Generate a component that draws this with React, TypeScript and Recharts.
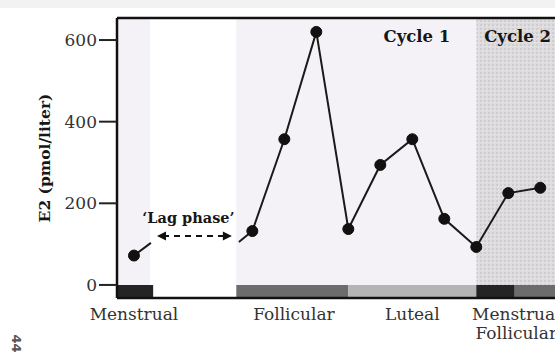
import { LineChart, Line, XAxis, YAxis, ReferenceArea, ReferenceLine } from "recharts";

// sampling days (x) and serum E2 (pmol/liter)
const sampleDay = [0, 3.7, 4.7, 5.7, 6.7, 7.7, 8.7, 9.7, 10.7, 11.7, 12.7];
const e2Values = [72, 132, 357, 620, 137, 294, 357, 162, 93, 225, 238];

// broken-axis stubs either side of the lag phase
const stubOutDays = [0, 0.53];
const stubOutValues = [72, 103];
const stubInDays = [3.28, 3.7];
const stubInValues = [105, 132];

// lag-phase arrow
const lagArrowDays = [0.72, 3.06];
const lagArrowValue = 120;

// phase bar along the bottom
const phaseNames = ["menstrual", "follicular", "luteal", "menstrual", "follicular"];
const phaseStart = [-0.53, 3.2, 6.7, 10.7, 11.9];
const phaseEnd = [0.6, 6.7, 10.7, 11.9, 13.16];

// phase labels under the axis
const labelDays = [0, 5.0, 8.7, 11.95];
const labelText = ["Menstrual", "Follicular", "Luteal", "Menstrual\nFollicular"];

// shaded backgrounds
const cycle1Start = 3.2;
const cycle1End = 10.7;
const cycle2Start = 10.7;
const xMin = -0.53;
const xMax = 13.16;
const yMin = -32;
const yMax = 654;
const yTicks = [0, 200, 400, 600];

const PHASE_FILL: Record<string, string> = {
  menstrual: "#242424",
  follicular: "#6c6c6c",
  luteal: "#b4b4b4",
};

const SERIF = "'DejaVu Serif', serif";

const mainData = sampleDay.slice(1).map((d, i) => ({ day: d, e2: e2Values[i + 1] }));
const soloData = [{ day: sampleDay[0], e2: e2Values[0] }];
const stubOut = stubOutDays.map((d, i) => ({ day: d, e2: stubOutValues[i] }));
const stubIn = stubInDays.map((d, i) => ({ day: d, e2: stubInValues[i] }));

function PhaseTick({ x, y, payload }: any) {
  const idx = labelDays.indexOf(payload.value);
  const lines = (labelText[idx] ?? "").split("\n");
  return (
    <text x={x} y={y} textAnchor="middle" fontFamily={SERIF} fontSize={17} fill="#333">
      {lines.map((l, i) => (
        <tspan key={i} x={x} dy={i === 0 ? 14 : 19}>
          {l}
        </tspan>
      ))}
    </text>
  );
}

function LagArrow(props: any) {
  const { x1, y1, x2, y2 } = props;
  return (
    <g>
      <line
        x1={x1 + 6}
        y1={y1}
        x2={x2 - 6}
        y2={y2}
        stroke="#111"
        strokeWidth={2}
        strokeDasharray="6 5"
      />
      <path d={`M${x1},${y1} l9,-4.5 l0,9 z`} fill="#111" />
      <path d={`M${x2},${y2} l-9,-4.5 l0,9 z`} fill="#111" />
      <text
        x={(x1 + x2) / 2 - 6}
        y={y1 - 13}
        textAnchor="middle"
        fontFamily={SERIF}
        fontWeight="bold"
        fontSize={14.5}
        fill="#161616"
      >
        ‘Lag phase’
      </text>
    </g>
  );
}

function cycleLabel(text: string, fromRight: number) {
  return (props: any) => {
    const vb = props.viewBox;
    return (
      <text
        x={vb.x + vb.width - fromRight}
        y={vb.y + 24}
        textAnchor="end"
        fontFamily={SERIF}
        fontWeight="bold"
        fontSize={16.5}
        fill="#161616"
      >
        {text}
      </text>
    );
  };
}

function yLabel(props: any) {
  const vb = props.viewBox;
  const cy = vb.y + vb.height / 2;
  return (
    <text
      x={46}
      y={cy}
      transform={`rotate(-90 46 ${cy})`}
      textAnchor="middle"
      dominantBaseline="middle"
      fontFamily={SERIF}
      fontWeight="bold"
      fontSize={15.5}
      fill="#161616"
    >
      E2 (pmol/liter)
    </text>
  );
}

export default function App() {
  return (
    <div
      style={{
        position: "relative",
        width: 555,
        height: 362,
        overflow: "hidden",
        background: "linear-gradient(#f2f2f2 0 8px, #ffffff 8px)",
      }}
    >
      <style>{"html,body{margin:0;padding:0;overflow:hidden}"}</style>
      <LineChart width={555} height={362} margin={{ top: 18, right: 0, bottom: 0, left: 0 }}>
        <defs>
          <pattern id="hatch" width="4" height="4" patternUnits="userSpaceOnUse">
            <rect width="4" height="4" fill="#dedcde" />
            <rect width="2" height="2" fill="#cfcdcf" />
            <rect x="2" y="2" width="1" height="1" fill="#ebe9eb" />
          </pattern>
        </defs>

        <XAxis
          dataKey="day"
          type="number"
          domain={[xMin, xMax]}
          allowDataOverflow
          ticks={sampleDay}
          tick={false}
          height={8}
          tickSize={6}
          tickLine={{ stroke: "#111", strokeWidth: 2 }}
          axisLine={{ stroke: "#111", strokeWidth: 2.5 }}
        />
        <XAxis
          xAxisId="phase"
          dataKey="day"
          type="number"
          domain={[xMin, xMax]}
          allowDataOverflow
          ticks={labelDays}
          tick={<PhaseTick />}
          tickSize={0}
          tickMargin={0}
          height={56}
          tickLine={false}
          axisLine={false}
          interval={0}
        />
        <YAxis
          type="number"
          domain={[yMin, yMax]}
          allowDataOverflow
          ticks={yTicks}
          width={117}
          tickSize={18}
          tickMargin={2}
          tick={{ fontFamily: SERIF, fontSize: 17, fill: "#333" }}
          tickLine={{ stroke: "#222", strokeWidth: 2 }}
          axisLine={{ stroke: "#111", strokeWidth: 2.5 }}
          label={{ content: yLabel }}
        />

        {/* backgrounds */}
        <ReferenceArea x1={xMin} x2={0.5} fill="#f5f2f7" fillOpacity={1} stroke="none" />
        <ReferenceArea
          x1={cycle1Start}
          x2={cycle1End}
          fill="#f5f2f7"
          fillOpacity={1}
          stroke="none"
          label={{ content: cycleLabel("Cycle 1", 26) }}
        />
        <ReferenceArea
          x1={cycle2Start}
          x2={xMax}
          fill="url(#hatch)"
          fillOpacity={1}
          stroke="none"
          label={{ content: cycleLabel("Cycle 2", 4) }}
        />

        {/* phase bar */}
        {phaseNames.map((p, i) => (
          <ReferenceArea
            key={i}
            x1={phaseStart[i]}
            x2={phaseEnd[i]}
            y1={yMin}
            y2={0}
            fill={PHASE_FILL[p]}
            fillOpacity={1}
            stroke="none"
          />
        ))}

        <ReferenceLine y={yMax} stroke="#111" strokeWidth={2.5} />
        <ReferenceLine
          segment={[
            { x: lagArrowDays[0], y: lagArrowValue },
            { x: lagArrowDays[1], y: lagArrowValue },
          ]}
          shape={LagArrow}
        />

        <Line
          data={stubOut}
          dataKey="e2"
          stroke="#1a1a1a"
          strokeWidth={2}
          dot={false}
          isAnimationActive={false}
        />
        <Line
          data={stubIn}
          dataKey="e2"
          stroke="#1a1a1a"
          strokeWidth={2}
          dot={false}
          isAnimationActive={false}
        />
        <Line
          data={mainData}
          dataKey="e2"
          type="linear"
          stroke="#1a1a1a"
          strokeWidth={2}
          dot={{ r: 5.5, fill: "#111", stroke: "#111", strokeWidth: 1 }}
          isAnimationActive={false}
        />
        <Line
          data={soloData}
          dataKey="e2"
          stroke="#1a1a1a"
          strokeWidth={2}
          dot={{ r: 5.5, fill: "#111", stroke: "#111", strokeWidth: 1 }}
          isAnimationActive={false}
        />
      </LineChart>
      <div
        style={{
          position: "absolute",
          left: 7,
          top: 336,
          fontFamily: "'DejaVu Sans', sans-serif",
          fontSize: 13,
          fontWeight: "bold",
          color: "#555",
          transform: "rotate(90deg)",
        }}
      >
        44
      </div>
    </div>
  );
}
